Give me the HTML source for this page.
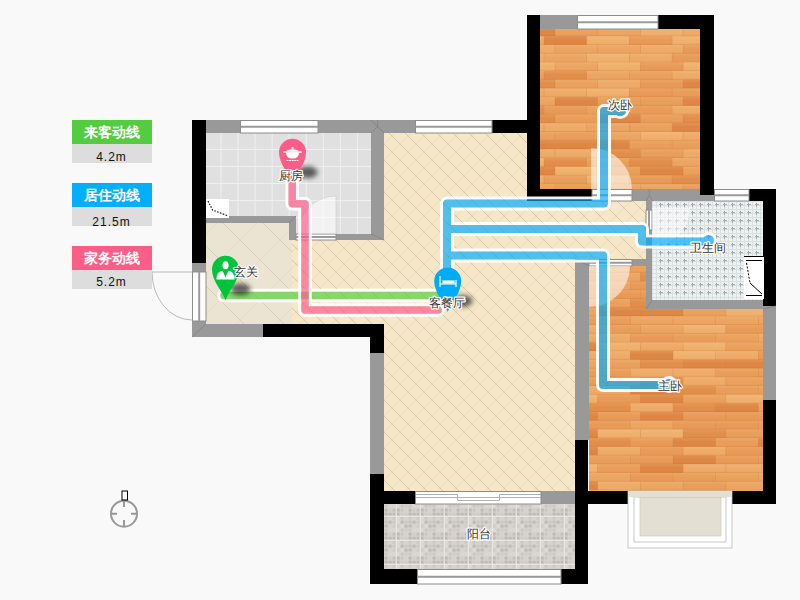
<!DOCTYPE html>
<html><head><meta charset="utf-8"><style>
html,body{margin:0;padding:0;width:800px;height:600px;overflow:hidden;background:#f9f9f9;font-family:"Liberation Sans",sans-serif;}
svg{position:absolute;left:0;top:0}
.lg{position:absolute;left:72px;width:80px;height:24px;line-height:24px;color:#fff;font-weight:bold;font-size:14px;text-align:center}
.lv{position:absolute;left:72px;width:80px;height:19px;line-height:26px;background:#dddddd;color:#111;font-size:12px;text-align:center;letter-spacing:1px;text-indent:-1px;overflow:hidden}
</style></head><body>
<svg width="800" height="600" viewBox="0 0 800 600" font-family="Liberation Sans, sans-serif">
<defs><pattern id="ktile" patternUnits="userSpaceOnUse" x="203.45" y="132" width="17.05" height="17">
<rect width="17.05" height="17" fill="#f0f0f0"/><rect x="1" y="1" width="16.05" height="16" fill="#e0e0e0"/></pattern><pattern id="hatch" patternUnits="userSpaceOnUse" x="0" y="0" width="16" height="16">
<rect width="16" height="16" fill="#f5e7c8"/>
<path d="M0 0L16 16M-8 8L8 24M8 -8L24 8" stroke="#a89a7a" stroke-width="0.7" opacity="0.62"/>
<path d="M0 16L16 0M-8 8L8 -8M8 24L24 8" stroke="#e6d8b8" stroke-width="0.7"/>
</pattern><pattern id="marble" patternUnits="userSpaceOnUse" x="0" y="0" width="40" height="40">
<rect width="40" height="40" fill="#ece4d3"/>
<path d="M0 0L40 40M-20 20L20 60M20 -20L60 20" stroke="#cfc2a8" stroke-width="0.6"/>
<path d="M0 40L40 0M-20 20L20 -20M20 60L60 20" stroke="#ddd2bc" stroke-width="0.5"/>
</pattern><pattern id="bath" patternUnits="userSpaceOnUse" x="648.5" y="200.5" width="8" height="8">
<rect width="8" height="8" fill="#edf1f1"/>
<path d="M0 0.5H8M0.5 0V8" stroke="#d6dddd" stroke-width="1"/>
<path d="M0 4.5H8M4.5 0V8" stroke="#e2e7e7" stroke-width="1"/>
<path d="M4 2V6M2 4H6" stroke="#a3abab" stroke-width="1" shape-rendering="crispEdges"/>
</pattern><pattern id="balc" patternUnits="userSpaceOnUse" x="384" y="504" width="24" height="24"><rect width="24" height="24" fill="#d9d5d0"/><rect x="0.6" y="0.6" width="3" height="3" fill="#cbc6c1"/><rect x="0.6" y="4.6" width="3" height="3" fill="#bdb8b3"/><rect x="0.6" y="8.6" width="3" height="3" fill="#bdb8b3"/><rect x="0.6" y="12.6" width="3" height="3" fill="#cbc6c1"/><rect x="0.6" y="16.6" width="3" height="3" fill="#c3beb9"/><rect x="0.6" y="20.6" width="3" height="3" fill="#bdb8b3"/><rect x="4.6" y="0.6" width="3" height="3" fill="#dcd8d3"/><rect x="4.6" y="4.6" width="3" height="3" fill="#d0cbc6"/><rect x="4.6" y="8.6" width="3" height="3" fill="#bdb8b3"/><rect x="4.6" y="12.6" width="3" height="3" fill="#d6d2cd"/><rect x="4.6" y="16.6" width="3" height="3" fill="#bdb8b3"/><rect x="4.6" y="20.6" width="3" height="3" fill="#d6d2cd"/><rect x="8.6" y="0.6" width="3" height="3" fill="#dcd8d3"/><rect x="8.6" y="4.6" width="3" height="3" fill="#c3beb9"/><rect x="8.6" y="8.6" width="3" height="3" fill="#bdb8b3"/><rect x="8.6" y="12.6" width="3" height="3" fill="#cbc6c1"/><rect x="8.6" y="16.6" width="3" height="3" fill="#cbc6c1"/><rect x="8.6" y="20.6" width="3" height="3" fill="#d0cbc6"/><rect x="12.6" y="0.6" width="3" height="3" fill="#dcd8d3"/><rect x="12.6" y="4.6" width="3" height="3" fill="#bdb8b3"/><rect x="12.6" y="8.6" width="3" height="3" fill="#bdb8b3"/><rect x="12.6" y="12.6" width="3" height="3" fill="#dcd8d3"/><rect x="12.6" y="16.6" width="3" height="3" fill="#dcd8d3"/><rect x="12.6" y="20.6" width="3" height="3" fill="#d0cbc6"/><rect x="16.6" y="0.6" width="3" height="3" fill="#cbc6c1"/><rect x="16.6" y="4.6" width="3" height="3" fill="#cbc6c1"/><rect x="16.6" y="8.6" width="3" height="3" fill="#d0cbc6"/><rect x="16.6" y="12.6" width="3" height="3" fill="#cbc6c1"/><rect x="16.6" y="16.6" width="3" height="3" fill="#bdb8b3"/><rect x="16.6" y="20.6" width="3" height="3" fill="#dcd8d3"/><rect x="20.6" y="0.6" width="3" height="3" fill="#d0cbc6"/><rect x="20.6" y="4.6" width="3" height="3" fill="#d6d2cd"/><rect x="20.6" y="8.6" width="3" height="3" fill="#d0cbc6"/><rect x="20.6" y="12.6" width="3" height="3" fill="#d6d2cd"/><rect x="20.6" y="16.6" width="3" height="3" fill="#cbc6c1"/><rect x="20.6" y="20.6" width="3" height="3" fill="#bdb8b3"/><path d="M0 12.3H24M12.3 0V24" stroke="#f0ede9" stroke-width="0.8"/></pattern><clipPath id="c540_29"><rect x="540" y="29" width="160" height="160"/></clipPath><clipPath id="c589_266"><rect x="589" y="266" width="174" height="225"/></clipPath><mask id="mg" maskUnits="userSpaceOnUse" x="0" y="0" width="800" height="600"><rect width="800" height="600" fill="#fff"/><path d="M224 295.5H447" fill="none" stroke="#000" stroke-width="7.5" stroke-linejoin="round" stroke-linecap="round"/></mask><mask id="mp" maskUnits="userSpaceOnUse" x="0" y="0" width="800" height="600"><rect width="800" height="600" fill="#fff"/><path d="M292.2 160V203.7H305V310H438" fill="none" stroke="#000" stroke-width="7.5" stroke-linejoin="round" stroke-linecap="round"/></mask><mask id="mb" maskUnits="userSpaceOnUse" x="0" y="0" width="800" height="600"><rect width="800" height="600" fill="#fff"/><path d="M447 300V203.5H604V111H622" fill="none" stroke="#000" stroke-width="8" stroke-linejoin="round" stroke-linecap="round"/><path d="M447 229H642V241.5H708" fill="none" stroke="#000" stroke-width="8" stroke-linejoin="round" stroke-linecap="round"/><path d="M447 255.5H603V385H668" fill="none" stroke="#000" stroke-width="8" stroke-linejoin="round" stroke-linecap="round"/><circle cx="620" cy="110.5" r="5.5" fill="#000"/><circle cx="708.5" cy="240.5" r="5.5" fill="#000"/><circle cx="669" cy="384.5" r="5.5" fill="#000"/></mask><linearGradient id="plankg" x1="0" y1="0" x2="0" y2="1"><stop offset="0" stop-color="#fff" stop-opacity="0.10"/><stop offset="0.5" stop-color="#fff" stop-opacity="0"/><stop offset="1" stop-color="#a04000" stop-opacity="0.10"/></linearGradient><filter id="blur" x="-50%" y="-50%" width="200%" height="200%"><feGaussianBlur stdDeviation="2.6"/></filter><filter id="tshadow" x="-30%" y="-30%" width="160%" height="160%"><feMorphology in="SourceAlpha" operator="dilate" radius="1.2" result="d"/><feFlood flood-color="#fff"/><feComposite in2="d" operator="in" result="w"/><feMerge><feMergeNode in="w"/><feMergeNode in="SourceGraphic"/></feMerge></filter></defs>
<rect x="384" y="133" width="143" height="67" fill="url(#hatch)" /><rect x="292" y="222" width="92" height="102" fill="url(#hatch)" /><rect x="384" y="133" width="191" height="358" fill="url(#hatch)" /><rect x="527" y="196" width="119" height="63.5" fill="url(#hatch)" /><rect x="206" y="222" width="86" height="102" fill="url(#marble)" /><rect x="206" y="133" width="165" height="83" fill="url(#ktile)" /><rect x="289" y="216" width="82" height="18" fill="url(#ktile)" /><rect x="652" y="201" width="111" height="99" fill="#edf1f1" /><path d="M652.5 201V300M656.5 201V300M660.5 201V300M664.5 201V300M668.5 201V300M672.5 201V300M676.5 201V300M680.5 201V300M684.5 201V300M688.5 201V300M692.5 201V300M696.5 201V300M700.5 201V300M704.5 201V300M708.5 201V300M712.5 201V300M716.5 201V300M720.5 201V300M724.5 201V300M728.5 201V300M732.5 201V300M736.5 201V300M740.5 201V300M744.5 201V300M748.5 201V300M752.5 201V300M756.5 201V300M760.5 201V300M652 201.5H763M652 205.5H763M652 209.5H763M652 213.5H763M652 217.5H763M652 221.5H763M652 225.5H763M652 229.5H763M652 233.5H763M652 237.5H763M652 241.5H763M652 245.5H763M652 249.5H763M652 253.5H763M652 257.5H763M652 261.5H763M652 265.5H763M652 269.5H763M652 273.5H763M652 277.5H763M652 281.5H763M652 285.5H763M652 289.5H763M652 293.5H763M652 297.5H763" stroke="#d9dfdf" stroke-width="1" shape-rendering="crispEdges"/><path d="M658.5 204.5H662.5M660.5 202.5V206.5M658.5 212.5H662.5M660.5 210.5V214.5M658.5 220.5H662.5M660.5 218.5V222.5M658.5 228.5H662.5M660.5 226.5V230.5M658.5 236.5H662.5M660.5 234.5V238.5M658.5 244.5H662.5M660.5 242.5V246.5M658.5 252.5H662.5M660.5 250.5V254.5M658.5 260.5H662.5M660.5 258.5V262.5M658.5 268.5H662.5M660.5 266.5V270.5M658.5 276.5H662.5M660.5 274.5V278.5M658.5 284.5H662.5M660.5 282.5V286.5M658.5 292.5H662.5M660.5 290.5V294.5M666.5 204.5H670.5M668.5 202.5V206.5M666.5 212.5H670.5M668.5 210.5V214.5M666.5 220.5H670.5M668.5 218.5V222.5M666.5 228.5H670.5M668.5 226.5V230.5M666.5 236.5H670.5M668.5 234.5V238.5M666.5 244.5H670.5M668.5 242.5V246.5M666.5 252.5H670.5M668.5 250.5V254.5M666.5 260.5H670.5M668.5 258.5V262.5M666.5 268.5H670.5M668.5 266.5V270.5M666.5 276.5H670.5M668.5 274.5V278.5M666.5 284.5H670.5M668.5 282.5V286.5M666.5 292.5H670.5M668.5 290.5V294.5M674.5 204.5H678.5M676.5 202.5V206.5M674.5 212.5H678.5M676.5 210.5V214.5M674.5 220.5H678.5M676.5 218.5V222.5M674.5 228.5H678.5M676.5 226.5V230.5M674.5 236.5H678.5M676.5 234.5V238.5M674.5 244.5H678.5M676.5 242.5V246.5M674.5 252.5H678.5M676.5 250.5V254.5M674.5 260.5H678.5M676.5 258.5V262.5M674.5 268.5H678.5M676.5 266.5V270.5M674.5 276.5H678.5M676.5 274.5V278.5M674.5 284.5H678.5M676.5 282.5V286.5M674.5 292.5H678.5M676.5 290.5V294.5M682.5 204.5H686.5M684.5 202.5V206.5M682.5 212.5H686.5M684.5 210.5V214.5M682.5 220.5H686.5M684.5 218.5V222.5M682.5 228.5H686.5M684.5 226.5V230.5M682.5 236.5H686.5M684.5 234.5V238.5M682.5 244.5H686.5M684.5 242.5V246.5M682.5 252.5H686.5M684.5 250.5V254.5M682.5 260.5H686.5M684.5 258.5V262.5M682.5 268.5H686.5M684.5 266.5V270.5M682.5 276.5H686.5M684.5 274.5V278.5M682.5 284.5H686.5M684.5 282.5V286.5M682.5 292.5H686.5M684.5 290.5V294.5M690.5 204.5H694.5M692.5 202.5V206.5M690.5 212.5H694.5M692.5 210.5V214.5M690.5 220.5H694.5M692.5 218.5V222.5M690.5 228.5H694.5M692.5 226.5V230.5M690.5 236.5H694.5M692.5 234.5V238.5M690.5 244.5H694.5M692.5 242.5V246.5M690.5 252.5H694.5M692.5 250.5V254.5M690.5 260.5H694.5M692.5 258.5V262.5M690.5 268.5H694.5M692.5 266.5V270.5M690.5 276.5H694.5M692.5 274.5V278.5M690.5 284.5H694.5M692.5 282.5V286.5M690.5 292.5H694.5M692.5 290.5V294.5M698.5 204.5H702.5M700.5 202.5V206.5M698.5 212.5H702.5M700.5 210.5V214.5M698.5 220.5H702.5M700.5 218.5V222.5M698.5 228.5H702.5M700.5 226.5V230.5M698.5 236.5H702.5M700.5 234.5V238.5M698.5 244.5H702.5M700.5 242.5V246.5M698.5 252.5H702.5M700.5 250.5V254.5M698.5 260.5H702.5M700.5 258.5V262.5M698.5 268.5H702.5M700.5 266.5V270.5M698.5 276.5H702.5M700.5 274.5V278.5M698.5 284.5H702.5M700.5 282.5V286.5M698.5 292.5H702.5M700.5 290.5V294.5M706.5 204.5H710.5M708.5 202.5V206.5M706.5 212.5H710.5M708.5 210.5V214.5M706.5 220.5H710.5M708.5 218.5V222.5M706.5 228.5H710.5M708.5 226.5V230.5M706.5 236.5H710.5M708.5 234.5V238.5M706.5 244.5H710.5M708.5 242.5V246.5M706.5 252.5H710.5M708.5 250.5V254.5M706.5 260.5H710.5M708.5 258.5V262.5M706.5 268.5H710.5M708.5 266.5V270.5M706.5 276.5H710.5M708.5 274.5V278.5M706.5 284.5H710.5M708.5 282.5V286.5M706.5 292.5H710.5M708.5 290.5V294.5M714.5 204.5H718.5M716.5 202.5V206.5M714.5 212.5H718.5M716.5 210.5V214.5M714.5 220.5H718.5M716.5 218.5V222.5M714.5 228.5H718.5M716.5 226.5V230.5M714.5 236.5H718.5M716.5 234.5V238.5M714.5 244.5H718.5M716.5 242.5V246.5M714.5 252.5H718.5M716.5 250.5V254.5M714.5 260.5H718.5M716.5 258.5V262.5M714.5 268.5H718.5M716.5 266.5V270.5M714.5 276.5H718.5M716.5 274.5V278.5M714.5 284.5H718.5M716.5 282.5V286.5M714.5 292.5H718.5M716.5 290.5V294.5M722.5 204.5H726.5M724.5 202.5V206.5M722.5 212.5H726.5M724.5 210.5V214.5M722.5 220.5H726.5M724.5 218.5V222.5M722.5 228.5H726.5M724.5 226.5V230.5M722.5 236.5H726.5M724.5 234.5V238.5M722.5 244.5H726.5M724.5 242.5V246.5M722.5 252.5H726.5M724.5 250.5V254.5M722.5 260.5H726.5M724.5 258.5V262.5M722.5 268.5H726.5M724.5 266.5V270.5M722.5 276.5H726.5M724.5 274.5V278.5M722.5 284.5H726.5M724.5 282.5V286.5M722.5 292.5H726.5M724.5 290.5V294.5M730.5 204.5H734.5M732.5 202.5V206.5M730.5 212.5H734.5M732.5 210.5V214.5M730.5 220.5H734.5M732.5 218.5V222.5M730.5 228.5H734.5M732.5 226.5V230.5M730.5 236.5H734.5M732.5 234.5V238.5M730.5 244.5H734.5M732.5 242.5V246.5M730.5 252.5H734.5M732.5 250.5V254.5M730.5 260.5H734.5M732.5 258.5V262.5M730.5 268.5H734.5M732.5 266.5V270.5M730.5 276.5H734.5M732.5 274.5V278.5M730.5 284.5H734.5M732.5 282.5V286.5M730.5 292.5H734.5M732.5 290.5V294.5M738.5 204.5H742.5M740.5 202.5V206.5M738.5 212.5H742.5M740.5 210.5V214.5M738.5 220.5H742.5M740.5 218.5V222.5M738.5 228.5H742.5M740.5 226.5V230.5M738.5 236.5H742.5M740.5 234.5V238.5M738.5 244.5H742.5M740.5 242.5V246.5M738.5 252.5H742.5M740.5 250.5V254.5M738.5 260.5H742.5M740.5 258.5V262.5M738.5 268.5H742.5M740.5 266.5V270.5M738.5 276.5H742.5M740.5 274.5V278.5M738.5 284.5H742.5M740.5 282.5V286.5M738.5 292.5H742.5M740.5 290.5V294.5M746.5 204.5H750.5M748.5 202.5V206.5M746.5 212.5H750.5M748.5 210.5V214.5M746.5 220.5H750.5M748.5 218.5V222.5M746.5 228.5H750.5M748.5 226.5V230.5M746.5 236.5H750.5M748.5 234.5V238.5M746.5 244.5H750.5M748.5 242.5V246.5M746.5 252.5H750.5M748.5 250.5V254.5M746.5 260.5H750.5M748.5 258.5V262.5M746.5 268.5H750.5M748.5 266.5V270.5M746.5 276.5H750.5M748.5 274.5V278.5M746.5 284.5H750.5M748.5 282.5V286.5M746.5 292.5H750.5M748.5 290.5V294.5M754.5 204.5H758.5M756.5 202.5V206.5M754.5 212.5H758.5M756.5 210.5V214.5M754.5 220.5H758.5M756.5 218.5V222.5M754.5 228.5H758.5M756.5 226.5V230.5M754.5 236.5H758.5M756.5 234.5V238.5M754.5 244.5H758.5M756.5 242.5V246.5M754.5 252.5H758.5M756.5 250.5V254.5M754.5 260.5H758.5M756.5 258.5V262.5M754.5 268.5H758.5M756.5 266.5V270.5M754.5 276.5H758.5M756.5 274.5V278.5M754.5 284.5H758.5M756.5 282.5V286.5M754.5 292.5H758.5M756.5 290.5V294.5" stroke="#a2aaaa" stroke-width="1" shape-rendering="crispEdges"/><rect x="384" y="504" width="191" height="65" fill="url(#balc)" /><g clip-path="url(#c540_29)"><rect x="540" y="29" width="160" height="160" fill="#e89a55" /><rect x="512.3" y="27.5" width="42.7" height="8.7" fill="#de8542"/><path d="M512.3 27.5V36.2" stroke="#c0652a" stroke-width="0.6" opacity="0.3"/><rect x="555.0" y="27.5" width="42.7" height="8.7" fill="#eba05a"/><path d="M555.0 27.5V36.2" stroke="#c0652a" stroke-width="0.6" opacity="0.3"/><rect x="597.7" y="27.5" width="42.7" height="8.7" fill="#eca460"/><path d="M597.7 27.5V36.2" stroke="#c0652a" stroke-width="0.6" opacity="0.3"/><rect x="640.4" y="27.5" width="42.7" height="8.7" fill="#f0b06c"/><path d="M640.4 27.5V36.2" stroke="#c0652a" stroke-width="0.6" opacity="0.3"/><rect x="683.1" y="27.5" width="42.7" height="8.7" fill="#eeaa66"/><path d="M683.1 27.5V36.2" stroke="#c0652a" stroke-width="0.6" opacity="0.3"/><rect x="540" y="27.5" width="160" height="8.7" fill="url(#plankg)"/><path d="M540 36.2H700" stroke="#c46a2c" stroke-width="0.6" opacity="0.35"/><rect x="501.3" y="36.2" width="42.7" height="8.7" fill="#eeaa66"/><path d="M501.3 36.2V44.9" stroke="#c0652a" stroke-width="0.6" opacity="0.3"/><rect x="544.0" y="36.2" width="42.7" height="8.7" fill="#de8542"/><path d="M544.0 36.2V44.9" stroke="#c0652a" stroke-width="0.6" opacity="0.3"/><rect x="586.7" y="36.2" width="42.7" height="8.7" fill="#f0b06c"/><path d="M586.7 36.2V44.9" stroke="#c0652a" stroke-width="0.6" opacity="0.3"/><rect x="629.4" y="36.2" width="42.7" height="8.7" fill="#e89a55"/><path d="M629.4 36.2V44.9" stroke="#c0652a" stroke-width="0.6" opacity="0.3"/><rect x="672.1" y="36.2" width="42.7" height="8.7" fill="#f0b06c"/><path d="M672.1 36.2V44.9" stroke="#c0652a" stroke-width="0.6" opacity="0.3"/><rect x="540" y="36.2" width="160" height="8.7" fill="url(#plankg)"/><path d="M540 44.9H700" stroke="#c46a2c" stroke-width="0.6" opacity="0.35"/><rect x="512.3" y="44.9" width="42.7" height="8.7" fill="#eeaa66"/><path d="M512.3 44.9V53.6" stroke="#c0652a" stroke-width="0.6" opacity="0.3"/><rect x="555.0" y="44.9" width="42.7" height="8.7" fill="#eca460"/><path d="M555.0 44.9V53.6" stroke="#c0652a" stroke-width="0.6" opacity="0.3"/><rect x="597.7" y="44.9" width="42.7" height="8.7" fill="#eca460"/><path d="M597.7 44.9V53.6" stroke="#c0652a" stroke-width="0.6" opacity="0.3"/><rect x="640.4" y="44.9" width="42.7" height="8.7" fill="#eeaa66"/><path d="M640.4 44.9V53.6" stroke="#c0652a" stroke-width="0.6" opacity="0.3"/><rect x="683.1" y="44.9" width="42.7" height="8.7" fill="#e89a55"/><path d="M683.1 44.9V53.6" stroke="#c0652a" stroke-width="0.6" opacity="0.3"/><rect x="540" y="44.9" width="160" height="8.7" fill="url(#plankg)"/><path d="M540 53.6H700" stroke="#c46a2c" stroke-width="0.6" opacity="0.35"/><rect x="501.3" y="53.6" width="42.7" height="8.7" fill="#eeaa66"/><path d="M501.3 53.6V62.3" stroke="#c0652a" stroke-width="0.6" opacity="0.3"/><rect x="544.0" y="53.6" width="42.7" height="8.7" fill="#eca460"/><path d="M544.0 53.6V62.3" stroke="#c0652a" stroke-width="0.6" opacity="0.3"/><rect x="586.7" y="53.6" width="42.7" height="8.7" fill="#f0b06c"/><path d="M586.7 53.6V62.3" stroke="#c0652a" stroke-width="0.6" opacity="0.3"/><rect x="629.4" y="53.6" width="42.7" height="8.7" fill="#eeaa66"/><path d="M629.4 53.6V62.3" stroke="#c0652a" stroke-width="0.6" opacity="0.3"/><rect x="672.1" y="53.6" width="42.7" height="8.7" fill="#e89a55"/><path d="M672.1 53.6V62.3" stroke="#c0652a" stroke-width="0.6" opacity="0.3"/><rect x="540" y="53.6" width="160" height="8.7" fill="url(#plankg)"/><path d="M540 62.3H700" stroke="#c46a2c" stroke-width="0.6" opacity="0.35"/><rect x="512.3" y="62.3" width="42.7" height="8.7" fill="#f0b06c"/><path d="M512.3 62.3V71.0" stroke="#c0652a" stroke-width="0.6" opacity="0.3"/><rect x="555.0" y="62.3" width="42.7" height="8.7" fill="#eca460"/><path d="M555.0 62.3V71.0" stroke="#c0652a" stroke-width="0.6" opacity="0.3"/><rect x="597.7" y="62.3" width="42.7" height="8.7" fill="#f0b06c"/><path d="M597.7 62.3V71.0" stroke="#c0652a" stroke-width="0.6" opacity="0.3"/><rect x="640.4" y="62.3" width="42.7" height="8.7" fill="#e89a55"/><path d="M640.4 62.3V71.0" stroke="#c0652a" stroke-width="0.6" opacity="0.3"/><rect x="683.1" y="62.3" width="42.7" height="8.7" fill="#f0b06c"/><path d="M683.1 62.3V71.0" stroke="#c0652a" stroke-width="0.6" opacity="0.3"/><rect x="540" y="62.3" width="160" height="8.7" fill="url(#plankg)"/><path d="M540 71.0H700" stroke="#c46a2c" stroke-width="0.6" opacity="0.35"/><rect x="501.3" y="71.0" width="42.7" height="8.7" fill="#eba05a"/><path d="M501.3 71.0V79.7" stroke="#c0652a" stroke-width="0.6" opacity="0.3"/><rect x="544.0" y="71.0" width="42.7" height="8.7" fill="#e28d48"/><path d="M544.0 71.0V79.7" stroke="#c0652a" stroke-width="0.6" opacity="0.3"/><rect x="586.7" y="71.0" width="42.7" height="8.7" fill="#eca460"/><path d="M586.7 71.0V79.7" stroke="#c0652a" stroke-width="0.6" opacity="0.3"/><rect x="629.4" y="71.0" width="42.7" height="8.7" fill="#eba05a"/><path d="M629.4 71.0V79.7" stroke="#c0652a" stroke-width="0.6" opacity="0.3"/><rect x="672.1" y="71.0" width="42.7" height="8.7" fill="#eeaa66"/><path d="M672.1 71.0V79.7" stroke="#c0652a" stroke-width="0.6" opacity="0.3"/><rect x="540" y="71.0" width="160" height="8.7" fill="url(#plankg)"/><path d="M540 79.7H700" stroke="#c46a2c" stroke-width="0.6" opacity="0.35"/><rect x="512.3" y="79.7" width="42.7" height="8.7" fill="#e28d48"/><path d="M512.3 79.7V88.4" stroke="#c0652a" stroke-width="0.6" opacity="0.3"/><rect x="555.0" y="79.7" width="42.7" height="8.7" fill="#eba05a"/><path d="M555.0 79.7V88.4" stroke="#c0652a" stroke-width="0.6" opacity="0.3"/><rect x="597.7" y="79.7" width="42.7" height="8.7" fill="#eeaa66"/><path d="M597.7 79.7V88.4" stroke="#c0652a" stroke-width="0.6" opacity="0.3"/><rect x="640.4" y="79.7" width="42.7" height="8.7" fill="#e89a55"/><path d="M640.4 79.7V88.4" stroke="#c0652a" stroke-width="0.6" opacity="0.3"/><rect x="683.1" y="79.7" width="42.7" height="8.7" fill="#de8542"/><path d="M683.1 79.7V88.4" stroke="#c0652a" stroke-width="0.6" opacity="0.3"/><rect x="540" y="79.7" width="160" height="8.7" fill="url(#plankg)"/><path d="M540 88.4H700" stroke="#c46a2c" stroke-width="0.6" opacity="0.35"/><rect x="501.3" y="88.4" width="42.7" height="8.7" fill="#eeaa66"/><path d="M501.3 88.4V97.1" stroke="#c0652a" stroke-width="0.6" opacity="0.3"/><rect x="544.0" y="88.4" width="42.7" height="8.7" fill="#eeaa66"/><path d="M544.0 88.4V97.1" stroke="#c0652a" stroke-width="0.6" opacity="0.3"/><rect x="586.7" y="88.4" width="42.7" height="8.7" fill="#f0b06c"/><path d="M586.7 88.4V97.1" stroke="#c0652a" stroke-width="0.6" opacity="0.3"/><rect x="629.4" y="88.4" width="42.7" height="8.7" fill="#e89a55"/><path d="M629.4 88.4V97.1" stroke="#c0652a" stroke-width="0.6" opacity="0.3"/><rect x="672.1" y="88.4" width="42.7" height="8.7" fill="#e99d58"/><path d="M672.1 88.4V97.1" stroke="#c0652a" stroke-width="0.6" opacity="0.3"/><rect x="540" y="88.4" width="160" height="8.7" fill="url(#plankg)"/><path d="M540 97.1H700" stroke="#c46a2c" stroke-width="0.6" opacity="0.35"/><rect x="512.3" y="97.1" width="42.7" height="8.7" fill="#eca460"/><path d="M512.3 97.1V105.8" stroke="#c0652a" stroke-width="0.6" opacity="0.3"/><rect x="555.0" y="97.1" width="42.7" height="8.7" fill="#de8542"/><path d="M555.0 97.1V105.8" stroke="#c0652a" stroke-width="0.6" opacity="0.3"/><rect x="597.7" y="97.1" width="42.7" height="8.7" fill="#e99d58"/><path d="M597.7 97.1V105.8" stroke="#c0652a" stroke-width="0.6" opacity="0.3"/><rect x="640.4" y="97.1" width="42.7" height="8.7" fill="#e99d58"/><path d="M640.4 97.1V105.8" stroke="#c0652a" stroke-width="0.6" opacity="0.3"/><rect x="683.1" y="97.1" width="42.7" height="8.7" fill="#de8542"/><path d="M683.1 97.1V105.8" stroke="#c0652a" stroke-width="0.6" opacity="0.3"/><rect x="540" y="97.1" width="160" height="8.7" fill="url(#plankg)"/><path d="M540 105.8H700" stroke="#c46a2c" stroke-width="0.6" opacity="0.35"/><rect x="501.3" y="105.8" width="42.7" height="8.7" fill="#e28d48"/><path d="M501.3 105.8V114.5" stroke="#c0652a" stroke-width="0.6" opacity="0.3"/><rect x="544.0" y="105.8" width="42.7" height="8.7" fill="#e89a55"/><path d="M544.0 105.8V114.5" stroke="#c0652a" stroke-width="0.6" opacity="0.3"/><rect x="586.7" y="105.8" width="42.7" height="8.7" fill="#eba05a"/><path d="M586.7 105.8V114.5" stroke="#c0652a" stroke-width="0.6" opacity="0.3"/><rect x="629.4" y="105.8" width="42.7" height="8.7" fill="#e89a55"/><path d="M629.4 105.8V114.5" stroke="#c0652a" stroke-width="0.6" opacity="0.3"/><rect x="672.1" y="105.8" width="42.7" height="8.7" fill="#eeaa66"/><path d="M672.1 105.8V114.5" stroke="#c0652a" stroke-width="0.6" opacity="0.3"/><rect x="540" y="105.8" width="160" height="8.7" fill="url(#plankg)"/><path d="M540 114.5H700" stroke="#c46a2c" stroke-width="0.6" opacity="0.35"/><rect x="512.3" y="114.5" width="42.7" height="8.7" fill="#e28d48"/><path d="M512.3 114.5V123.2" stroke="#c0652a" stroke-width="0.6" opacity="0.3"/><rect x="555.0" y="114.5" width="42.7" height="8.7" fill="#e99d58"/><path d="M555.0 114.5V123.2" stroke="#c0652a" stroke-width="0.6" opacity="0.3"/><rect x="597.7" y="114.5" width="42.7" height="8.7" fill="#de8542"/><path d="M597.7 114.5V123.2" stroke="#c0652a" stroke-width="0.6" opacity="0.3"/><rect x="640.4" y="114.5" width="42.7" height="8.7" fill="#e99d58"/><path d="M640.4 114.5V123.2" stroke="#c0652a" stroke-width="0.6" opacity="0.3"/><rect x="683.1" y="114.5" width="42.7" height="8.7" fill="#e28d48"/><path d="M683.1 114.5V123.2" stroke="#c0652a" stroke-width="0.6" opacity="0.3"/><rect x="540" y="114.5" width="160" height="8.7" fill="url(#plankg)"/><path d="M540 123.2H700" stroke="#c46a2c" stroke-width="0.6" opacity="0.35"/><rect x="501.3" y="123.2" width="42.7" height="8.7" fill="#eeaa66"/><path d="M501.3 123.2V131.9" stroke="#c0652a" stroke-width="0.6" opacity="0.3"/><rect x="544.0" y="123.2" width="42.7" height="8.7" fill="#eeaa66"/><path d="M544.0 123.2V131.9" stroke="#c0652a" stroke-width="0.6" opacity="0.3"/><rect x="586.7" y="123.2" width="42.7" height="8.7" fill="#eca460"/><path d="M586.7 123.2V131.9" stroke="#c0652a" stroke-width="0.6" opacity="0.3"/><rect x="629.4" y="123.2" width="42.7" height="8.7" fill="#eba05a"/><path d="M629.4 123.2V131.9" stroke="#c0652a" stroke-width="0.6" opacity="0.3"/><rect x="672.1" y="123.2" width="42.7" height="8.7" fill="#de8542"/><path d="M672.1 123.2V131.9" stroke="#c0652a" stroke-width="0.6" opacity="0.3"/><rect x="540" y="123.2" width="160" height="8.7" fill="url(#plankg)"/><path d="M540 131.9H700" stroke="#c46a2c" stroke-width="0.6" opacity="0.35"/><rect x="512.3" y="131.9" width="42.7" height="8.7" fill="#eba05a"/><path d="M512.3 131.9V140.6" stroke="#c0652a" stroke-width="0.6" opacity="0.3"/><rect x="555.0" y="131.9" width="42.7" height="8.7" fill="#e99d58"/><path d="M555.0 131.9V140.6" stroke="#c0652a" stroke-width="0.6" opacity="0.3"/><rect x="597.7" y="131.9" width="42.7" height="8.7" fill="#eca460"/><path d="M597.7 131.9V140.6" stroke="#c0652a" stroke-width="0.6" opacity="0.3"/><rect x="640.4" y="131.9" width="42.7" height="8.7" fill="#f0b06c"/><path d="M640.4 131.9V140.6" stroke="#c0652a" stroke-width="0.6" opacity="0.3"/><rect x="683.1" y="131.9" width="42.7" height="8.7" fill="#eeaa66"/><path d="M683.1 131.9V140.6" stroke="#c0652a" stroke-width="0.6" opacity="0.3"/><rect x="540" y="131.9" width="160" height="8.7" fill="url(#plankg)"/><path d="M540 140.6H700" stroke="#c46a2c" stroke-width="0.6" opacity="0.35"/><rect x="501.3" y="140.6" width="42.7" height="8.7" fill="#de8542"/><path d="M501.3 140.6V149.3" stroke="#c0652a" stroke-width="0.6" opacity="0.3"/><rect x="544.0" y="140.6" width="42.7" height="8.7" fill="#de8542"/><path d="M544.0 140.6V149.3" stroke="#c0652a" stroke-width="0.6" opacity="0.3"/><rect x="586.7" y="140.6" width="42.7" height="8.7" fill="#de8542"/><path d="M586.7 140.6V149.3" stroke="#c0652a" stroke-width="0.6" opacity="0.3"/><rect x="629.4" y="140.6" width="42.7" height="8.7" fill="#e99d58"/><path d="M629.4 140.6V149.3" stroke="#c0652a" stroke-width="0.6" opacity="0.3"/><rect x="672.1" y="140.6" width="42.7" height="8.7" fill="#e99d58"/><path d="M672.1 140.6V149.3" stroke="#c0652a" stroke-width="0.6" opacity="0.3"/><rect x="540" y="140.6" width="160" height="8.7" fill="url(#plankg)"/><path d="M540 149.3H700" stroke="#c46a2c" stroke-width="0.6" opacity="0.35"/><rect x="512.3" y="149.3" width="42.7" height="8.7" fill="#eeaa66"/><path d="M512.3 149.3V158.0" stroke="#c0652a" stroke-width="0.6" opacity="0.3"/><rect x="555.0" y="149.3" width="42.7" height="8.7" fill="#eeaa66"/><path d="M555.0 149.3V158.0" stroke="#c0652a" stroke-width="0.6" opacity="0.3"/><rect x="597.7" y="149.3" width="42.7" height="8.7" fill="#e28d48"/><path d="M597.7 149.3V158.0" stroke="#c0652a" stroke-width="0.6" opacity="0.3"/><rect x="640.4" y="149.3" width="42.7" height="8.7" fill="#e99d58"/><path d="M640.4 149.3V158.0" stroke="#c0652a" stroke-width="0.6" opacity="0.3"/><rect x="683.1" y="149.3" width="42.7" height="8.7" fill="#eeaa66"/><path d="M683.1 149.3V158.0" stroke="#c0652a" stroke-width="0.6" opacity="0.3"/><rect x="540" y="149.3" width="160" height="8.7" fill="url(#plankg)"/><path d="M540 158.0H700" stroke="#c46a2c" stroke-width="0.6" opacity="0.35"/><rect x="501.3" y="158.0" width="42.7" height="8.7" fill="#f0b06c"/><path d="M501.3 158.0V166.7" stroke="#c0652a" stroke-width="0.6" opacity="0.3"/><rect x="544.0" y="158.0" width="42.7" height="8.7" fill="#e28d48"/><path d="M544.0 158.0V166.7" stroke="#c0652a" stroke-width="0.6" opacity="0.3"/><rect x="586.7" y="158.0" width="42.7" height="8.7" fill="#e99d58"/><path d="M586.7 158.0V166.7" stroke="#c0652a" stroke-width="0.6" opacity="0.3"/><rect x="629.4" y="158.0" width="42.7" height="8.7" fill="#e28d48"/><path d="M629.4 158.0V166.7" stroke="#c0652a" stroke-width="0.6" opacity="0.3"/><rect x="672.1" y="158.0" width="42.7" height="8.7" fill="#eca460"/><path d="M672.1 158.0V166.7" stroke="#c0652a" stroke-width="0.6" opacity="0.3"/><rect x="540" y="158.0" width="160" height="8.7" fill="url(#plankg)"/><path d="M540 166.7H700" stroke="#c46a2c" stroke-width="0.6" opacity="0.35"/><rect x="512.3" y="166.7" width="42.7" height="8.7" fill="#de8542"/><path d="M512.3 166.7V175.4" stroke="#c0652a" stroke-width="0.6" opacity="0.3"/><rect x="555.0" y="166.7" width="42.7" height="8.7" fill="#f0b06c"/><path d="M555.0 166.7V175.4" stroke="#c0652a" stroke-width="0.6" opacity="0.3"/><rect x="597.7" y="166.7" width="42.7" height="8.7" fill="#e99d58"/><path d="M597.7 166.7V175.4" stroke="#c0652a" stroke-width="0.6" opacity="0.3"/><rect x="640.4" y="166.7" width="42.7" height="8.7" fill="#de8542"/><path d="M640.4 166.7V175.4" stroke="#c0652a" stroke-width="0.6" opacity="0.3"/><rect x="683.1" y="166.7" width="42.7" height="8.7" fill="#eba05a"/><path d="M683.1 166.7V175.4" stroke="#c0652a" stroke-width="0.6" opacity="0.3"/><rect x="540" y="166.7" width="160" height="8.7" fill="url(#plankg)"/><path d="M540 175.4H700" stroke="#c46a2c" stroke-width="0.6" opacity="0.35"/><rect x="501.3" y="175.4" width="42.7" height="8.7" fill="#eeaa66"/><path d="M501.3 175.4V184.1" stroke="#c0652a" stroke-width="0.6" opacity="0.3"/><rect x="544.0" y="175.4" width="42.7" height="8.7" fill="#e99d58"/><path d="M544.0 175.4V184.1" stroke="#c0652a" stroke-width="0.6" opacity="0.3"/><rect x="586.7" y="175.4" width="42.7" height="8.7" fill="#f0b06c"/><path d="M586.7 175.4V184.1" stroke="#c0652a" stroke-width="0.6" opacity="0.3"/><rect x="629.4" y="175.4" width="42.7" height="8.7" fill="#e89a55"/><path d="M629.4 175.4V184.1" stroke="#c0652a" stroke-width="0.6" opacity="0.3"/><rect x="672.1" y="175.4" width="42.7" height="8.7" fill="#e28d48"/><path d="M672.1 175.4V184.1" stroke="#c0652a" stroke-width="0.6" opacity="0.3"/><rect x="540" y="175.4" width="160" height="8.7" fill="url(#plankg)"/><path d="M540 184.1H700" stroke="#c46a2c" stroke-width="0.6" opacity="0.35"/><rect x="512.3" y="184.1" width="42.7" height="8.7" fill="#eba05a"/><path d="M512.3 184.1V192.8" stroke="#c0652a" stroke-width="0.6" opacity="0.3"/><rect x="555.0" y="184.1" width="42.7" height="8.7" fill="#e89a55"/><path d="M555.0 184.1V192.8" stroke="#c0652a" stroke-width="0.6" opacity="0.3"/><rect x="597.7" y="184.1" width="42.7" height="8.7" fill="#eca460"/><path d="M597.7 184.1V192.8" stroke="#c0652a" stroke-width="0.6" opacity="0.3"/><rect x="640.4" y="184.1" width="42.7" height="8.7" fill="#eca460"/><path d="M640.4 184.1V192.8" stroke="#c0652a" stroke-width="0.6" opacity="0.3"/><rect x="683.1" y="184.1" width="42.7" height="8.7" fill="#e99d58"/><path d="M683.1 184.1V192.8" stroke="#c0652a" stroke-width="0.6" opacity="0.3"/><rect x="540" y="184.1" width="160" height="8.7" fill="url(#plankg)"/><path d="M540 192.8H700" stroke="#c46a2c" stroke-width="0.6" opacity="0.35"/></g><g clip-path="url(#c589_266)"><rect x="589" y="266" width="174" height="225" fill="#e89a55" /><rect x="587.6" y="264.1" width="42.7" height="8.7" fill="#eeaa66"/><path d="M587.6 264.1V272.8" stroke="#c0652a" stroke-width="0.6" opacity="0.3"/><rect x="630.3" y="264.1" width="42.7" height="8.7" fill="#eba05a"/><path d="M630.3 264.1V272.8" stroke="#c0652a" stroke-width="0.6" opacity="0.3"/><rect x="673.0" y="264.1" width="42.7" height="8.7" fill="#e99d58"/><path d="M673.0 264.1V272.8" stroke="#c0652a" stroke-width="0.6" opacity="0.3"/><rect x="715.7" y="264.1" width="42.7" height="8.7" fill="#eca460"/><path d="M715.7 264.1V272.8" stroke="#c0652a" stroke-width="0.6" opacity="0.3"/><rect x="758.4" y="264.1" width="42.7" height="8.7" fill="#e28d48"/><path d="M758.4 264.1V272.8" stroke="#c0652a" stroke-width="0.6" opacity="0.3"/><rect x="589" y="264.1" width="174" height="8.7" fill="url(#plankg)"/><path d="M589 272.8H763" stroke="#c46a2c" stroke-width="0.6" opacity="0.35"/><rect x="555.0" y="272.8" width="42.7" height="8.7" fill="#eba05a"/><path d="M555.0 272.8V281.5" stroke="#c0652a" stroke-width="0.6" opacity="0.3"/><rect x="597.7" y="272.8" width="42.7" height="8.7" fill="#eca460"/><path d="M597.7 272.8V281.5" stroke="#c0652a" stroke-width="0.6" opacity="0.3"/><rect x="640.4" y="272.8" width="42.7" height="8.7" fill="#e28d48"/><path d="M640.4 272.8V281.5" stroke="#c0652a" stroke-width="0.6" opacity="0.3"/><rect x="683.1" y="272.8" width="42.7" height="8.7" fill="#eca460"/><path d="M683.1 272.8V281.5" stroke="#c0652a" stroke-width="0.6" opacity="0.3"/><rect x="725.8" y="272.8" width="42.7" height="8.7" fill="#de8542"/><path d="M725.8 272.8V281.5" stroke="#c0652a" stroke-width="0.6" opacity="0.3"/><rect x="589" y="272.8" width="174" height="8.7" fill="url(#plankg)"/><path d="M589 281.5H763" stroke="#c46a2c" stroke-width="0.6" opacity="0.35"/><rect x="587.6" y="281.5" width="42.7" height="8.7" fill="#eca460"/><path d="M587.6 281.5V290.2" stroke="#c0652a" stroke-width="0.6" opacity="0.3"/><rect x="630.3" y="281.5" width="42.7" height="8.7" fill="#e89a55"/><path d="M630.3 281.5V290.2" stroke="#c0652a" stroke-width="0.6" opacity="0.3"/><rect x="673.0" y="281.5" width="42.7" height="8.7" fill="#eba05a"/><path d="M673.0 281.5V290.2" stroke="#c0652a" stroke-width="0.6" opacity="0.3"/><rect x="715.7" y="281.5" width="42.7" height="8.7" fill="#eeaa66"/><path d="M715.7 281.5V290.2" stroke="#c0652a" stroke-width="0.6" opacity="0.3"/><rect x="758.4" y="281.5" width="42.7" height="8.7" fill="#eba05a"/><path d="M758.4 281.5V290.2" stroke="#c0652a" stroke-width="0.6" opacity="0.3"/><rect x="589" y="281.5" width="174" height="8.7" fill="url(#plankg)"/><path d="M589 290.2H763" stroke="#c46a2c" stroke-width="0.6" opacity="0.35"/><rect x="555.0" y="290.2" width="42.7" height="8.7" fill="#eba05a"/><path d="M555.0 290.2V298.9" stroke="#c0652a" stroke-width="0.6" opacity="0.3"/><rect x="597.7" y="290.2" width="42.7" height="8.7" fill="#e89a55"/><path d="M597.7 290.2V298.9" stroke="#c0652a" stroke-width="0.6" opacity="0.3"/><rect x="640.4" y="290.2" width="42.7" height="8.7" fill="#e89a55"/><path d="M640.4 290.2V298.9" stroke="#c0652a" stroke-width="0.6" opacity="0.3"/><rect x="683.1" y="290.2" width="42.7" height="8.7" fill="#f0b06c"/><path d="M683.1 290.2V298.9" stroke="#c0652a" stroke-width="0.6" opacity="0.3"/><rect x="725.8" y="290.2" width="42.7" height="8.7" fill="#e99d58"/><path d="M725.8 290.2V298.9" stroke="#c0652a" stroke-width="0.6" opacity="0.3"/><rect x="589" y="290.2" width="174" height="8.7" fill="url(#plankg)"/><path d="M589 298.9H763" stroke="#c46a2c" stroke-width="0.6" opacity="0.35"/><rect x="587.6" y="298.9" width="42.7" height="8.7" fill="#eba05a"/><path d="M587.6 298.9V307.6" stroke="#c0652a" stroke-width="0.6" opacity="0.3"/><rect x="630.3" y="298.9" width="42.7" height="8.7" fill="#e28d48"/><path d="M630.3 298.9V307.6" stroke="#c0652a" stroke-width="0.6" opacity="0.3"/><rect x="673.0" y="298.9" width="42.7" height="8.7" fill="#e28d48"/><path d="M673.0 298.9V307.6" stroke="#c0652a" stroke-width="0.6" opacity="0.3"/><rect x="715.7" y="298.9" width="42.7" height="8.7" fill="#f0b06c"/><path d="M715.7 298.9V307.6" stroke="#c0652a" stroke-width="0.6" opacity="0.3"/><rect x="758.4" y="298.9" width="42.7" height="8.7" fill="#eba05a"/><path d="M758.4 298.9V307.6" stroke="#c0652a" stroke-width="0.6" opacity="0.3"/><rect x="589" y="298.9" width="174" height="8.7" fill="url(#plankg)"/><path d="M589 307.6H763" stroke="#c46a2c" stroke-width="0.6" opacity="0.35"/><rect x="555.0" y="307.6" width="42.7" height="8.7" fill="#eca460"/><path d="M555.0 307.6V316.3" stroke="#c0652a" stroke-width="0.6" opacity="0.3"/><rect x="597.7" y="307.6" width="42.7" height="8.7" fill="#de8542"/><path d="M597.7 307.6V316.3" stroke="#c0652a" stroke-width="0.6" opacity="0.3"/><rect x="640.4" y="307.6" width="42.7" height="8.7" fill="#de8542"/><path d="M640.4 307.6V316.3" stroke="#c0652a" stroke-width="0.6" opacity="0.3"/><rect x="683.1" y="307.6" width="42.7" height="8.7" fill="#eba05a"/><path d="M683.1 307.6V316.3" stroke="#c0652a" stroke-width="0.6" opacity="0.3"/><rect x="725.8" y="307.6" width="42.7" height="8.7" fill="#f0b06c"/><path d="M725.8 307.6V316.3" stroke="#c0652a" stroke-width="0.6" opacity="0.3"/><rect x="589" y="307.6" width="174" height="8.7" fill="url(#plankg)"/><path d="M589 316.3H763" stroke="#c46a2c" stroke-width="0.6" opacity="0.35"/><rect x="587.6" y="316.3" width="42.7" height="8.7" fill="#e99d58"/><path d="M587.6 316.3V325.0" stroke="#c0652a" stroke-width="0.6" opacity="0.3"/><rect x="630.3" y="316.3" width="42.7" height="8.7" fill="#eca460"/><path d="M630.3 316.3V325.0" stroke="#c0652a" stroke-width="0.6" opacity="0.3"/><rect x="673.0" y="316.3" width="42.7" height="8.7" fill="#eca460"/><path d="M673.0 316.3V325.0" stroke="#c0652a" stroke-width="0.6" opacity="0.3"/><rect x="715.7" y="316.3" width="42.7" height="8.7" fill="#eca460"/><path d="M715.7 316.3V325.0" stroke="#c0652a" stroke-width="0.6" opacity="0.3"/><rect x="758.4" y="316.3" width="42.7" height="8.7" fill="#eca460"/><path d="M758.4 316.3V325.0" stroke="#c0652a" stroke-width="0.6" opacity="0.3"/><rect x="589" y="316.3" width="174" height="8.7" fill="url(#plankg)"/><path d="M589 325.0H763" stroke="#c46a2c" stroke-width="0.6" opacity="0.35"/><rect x="555.0" y="325.0" width="42.7" height="8.7" fill="#eeaa66"/><path d="M555.0 325.0V333.7" stroke="#c0652a" stroke-width="0.6" opacity="0.3"/><rect x="597.7" y="325.0" width="42.7" height="8.7" fill="#e99d58"/><path d="M597.7 325.0V333.7" stroke="#c0652a" stroke-width="0.6" opacity="0.3"/><rect x="640.4" y="325.0" width="42.7" height="8.7" fill="#eca460"/><path d="M640.4 325.0V333.7" stroke="#c0652a" stroke-width="0.6" opacity="0.3"/><rect x="683.1" y="325.0" width="42.7" height="8.7" fill="#f0b06c"/><path d="M683.1 325.0V333.7" stroke="#c0652a" stroke-width="0.6" opacity="0.3"/><rect x="725.8" y="325.0" width="42.7" height="8.7" fill="#e89a55"/><path d="M725.8 325.0V333.7" stroke="#c0652a" stroke-width="0.6" opacity="0.3"/><rect x="589" y="325.0" width="174" height="8.7" fill="url(#plankg)"/><path d="M589 333.7H763" stroke="#c46a2c" stroke-width="0.6" opacity="0.35"/><rect x="587.6" y="333.7" width="42.7" height="8.7" fill="#eeaa66"/><path d="M587.6 333.7V342.4" stroke="#c0652a" stroke-width="0.6" opacity="0.3"/><rect x="630.3" y="333.7" width="42.7" height="8.7" fill="#e89a55"/><path d="M630.3 333.7V342.4" stroke="#c0652a" stroke-width="0.6" opacity="0.3"/><rect x="673.0" y="333.7" width="42.7" height="8.7" fill="#e99d58"/><path d="M673.0 333.7V342.4" stroke="#c0652a" stroke-width="0.6" opacity="0.3"/><rect x="715.7" y="333.7" width="42.7" height="8.7" fill="#eba05a"/><path d="M715.7 333.7V342.4" stroke="#c0652a" stroke-width="0.6" opacity="0.3"/><rect x="758.4" y="333.7" width="42.7" height="8.7" fill="#eeaa66"/><path d="M758.4 333.7V342.4" stroke="#c0652a" stroke-width="0.6" opacity="0.3"/><rect x="589" y="333.7" width="174" height="8.7" fill="url(#plankg)"/><path d="M589 342.4H763" stroke="#c46a2c" stroke-width="0.6" opacity="0.35"/><rect x="555.0" y="342.4" width="42.7" height="8.7" fill="#de8542"/><path d="M555.0 342.4V351.1" stroke="#c0652a" stroke-width="0.6" opacity="0.3"/><rect x="597.7" y="342.4" width="42.7" height="8.7" fill="#f0b06c"/><path d="M597.7 342.4V351.1" stroke="#c0652a" stroke-width="0.6" opacity="0.3"/><rect x="640.4" y="342.4" width="42.7" height="8.7" fill="#eeaa66"/><path d="M640.4 342.4V351.1" stroke="#c0652a" stroke-width="0.6" opacity="0.3"/><rect x="683.1" y="342.4" width="42.7" height="8.7" fill="#f0b06c"/><path d="M683.1 342.4V351.1" stroke="#c0652a" stroke-width="0.6" opacity="0.3"/><rect x="725.8" y="342.4" width="42.7" height="8.7" fill="#eba05a"/><path d="M725.8 342.4V351.1" stroke="#c0652a" stroke-width="0.6" opacity="0.3"/><rect x="589" y="342.4" width="174" height="8.7" fill="url(#plankg)"/><path d="M589 351.1H763" stroke="#c46a2c" stroke-width="0.6" opacity="0.35"/><rect x="587.6" y="351.1" width="42.7" height="8.7" fill="#eeaa66"/><path d="M587.6 351.1V359.8" stroke="#c0652a" stroke-width="0.6" opacity="0.3"/><rect x="630.3" y="351.1" width="42.7" height="8.7" fill="#de8542"/><path d="M630.3 351.1V359.8" stroke="#c0652a" stroke-width="0.6" opacity="0.3"/><rect x="673.0" y="351.1" width="42.7" height="8.7" fill="#f0b06c"/><path d="M673.0 351.1V359.8" stroke="#c0652a" stroke-width="0.6" opacity="0.3"/><rect x="715.7" y="351.1" width="42.7" height="8.7" fill="#eeaa66"/><path d="M715.7 351.1V359.8" stroke="#c0652a" stroke-width="0.6" opacity="0.3"/><rect x="758.4" y="351.1" width="42.7" height="8.7" fill="#e89a55"/><path d="M758.4 351.1V359.8" stroke="#c0652a" stroke-width="0.6" opacity="0.3"/><rect x="589" y="351.1" width="174" height="8.7" fill="url(#plankg)"/><path d="M589 359.8H763" stroke="#c46a2c" stroke-width="0.6" opacity="0.35"/><rect x="555.0" y="359.8" width="42.7" height="8.7" fill="#eca460"/><path d="M555.0 359.8V368.5" stroke="#c0652a" stroke-width="0.6" opacity="0.3"/><rect x="597.7" y="359.8" width="42.7" height="8.7" fill="#eba05a"/><path d="M597.7 359.8V368.5" stroke="#c0652a" stroke-width="0.6" opacity="0.3"/><rect x="640.4" y="359.8" width="42.7" height="8.7" fill="#e28d48"/><path d="M640.4 359.8V368.5" stroke="#c0652a" stroke-width="0.6" opacity="0.3"/><rect x="683.1" y="359.8" width="42.7" height="8.7" fill="#de8542"/><path d="M683.1 359.8V368.5" stroke="#c0652a" stroke-width="0.6" opacity="0.3"/><rect x="725.8" y="359.8" width="42.7" height="8.7" fill="#de8542"/><path d="M725.8 359.8V368.5" stroke="#c0652a" stroke-width="0.6" opacity="0.3"/><rect x="589" y="359.8" width="174" height="8.7" fill="url(#plankg)"/><path d="M589 368.5H763" stroke="#c46a2c" stroke-width="0.6" opacity="0.35"/><rect x="587.6" y="368.5" width="42.7" height="8.7" fill="#e99d58"/><path d="M587.6 368.5V377.2" stroke="#c0652a" stroke-width="0.6" opacity="0.3"/><rect x="630.3" y="368.5" width="42.7" height="8.7" fill="#eeaa66"/><path d="M630.3 368.5V377.2" stroke="#c0652a" stroke-width="0.6" opacity="0.3"/><rect x="673.0" y="368.5" width="42.7" height="8.7" fill="#eeaa66"/><path d="M673.0 368.5V377.2" stroke="#c0652a" stroke-width="0.6" opacity="0.3"/><rect x="715.7" y="368.5" width="42.7" height="8.7" fill="#e99d58"/><path d="M715.7 368.5V377.2" stroke="#c0652a" stroke-width="0.6" opacity="0.3"/><rect x="758.4" y="368.5" width="42.7" height="8.7" fill="#e99d58"/><path d="M758.4 368.5V377.2" stroke="#c0652a" stroke-width="0.6" opacity="0.3"/><rect x="589" y="368.5" width="174" height="8.7" fill="url(#plankg)"/><path d="M589 377.2H763" stroke="#c46a2c" stroke-width="0.6" opacity="0.35"/><rect x="555.0" y="377.2" width="42.7" height="8.7" fill="#e99d58"/><path d="M555.0 377.2V385.9" stroke="#c0652a" stroke-width="0.6" opacity="0.3"/><rect x="597.7" y="377.2" width="42.7" height="8.7" fill="#e99d58"/><path d="M597.7 377.2V385.9" stroke="#c0652a" stroke-width="0.6" opacity="0.3"/><rect x="640.4" y="377.2" width="42.7" height="8.7" fill="#e28d48"/><path d="M640.4 377.2V385.9" stroke="#c0652a" stroke-width="0.6" opacity="0.3"/><rect x="683.1" y="377.2" width="42.7" height="8.7" fill="#eeaa66"/><path d="M683.1 377.2V385.9" stroke="#c0652a" stroke-width="0.6" opacity="0.3"/><rect x="725.8" y="377.2" width="42.7" height="8.7" fill="#eba05a"/><path d="M725.8 377.2V385.9" stroke="#c0652a" stroke-width="0.6" opacity="0.3"/><rect x="589" y="377.2" width="174" height="8.7" fill="url(#plankg)"/><path d="M589 385.9H763" stroke="#c46a2c" stroke-width="0.6" opacity="0.35"/><rect x="587.6" y="385.9" width="42.7" height="8.7" fill="#eeaa66"/><path d="M587.6 385.9V394.6" stroke="#c0652a" stroke-width="0.6" opacity="0.3"/><rect x="630.3" y="385.9" width="42.7" height="8.7" fill="#de8542"/><path d="M630.3 385.9V394.6" stroke="#c0652a" stroke-width="0.6" opacity="0.3"/><rect x="673.0" y="385.9" width="42.7" height="8.7" fill="#e28d48"/><path d="M673.0 385.9V394.6" stroke="#c0652a" stroke-width="0.6" opacity="0.3"/><rect x="715.7" y="385.9" width="42.7" height="8.7" fill="#e99d58"/><path d="M715.7 385.9V394.6" stroke="#c0652a" stroke-width="0.6" opacity="0.3"/><rect x="758.4" y="385.9" width="42.7" height="8.7" fill="#eba05a"/><path d="M758.4 385.9V394.6" stroke="#c0652a" stroke-width="0.6" opacity="0.3"/><rect x="589" y="385.9" width="174" height="8.7" fill="url(#plankg)"/><path d="M589 394.6H763" stroke="#c46a2c" stroke-width="0.6" opacity="0.35"/><rect x="555.0" y="394.6" width="42.7" height="8.7" fill="#f0b06c"/><path d="M555.0 394.6V403.3" stroke="#c0652a" stroke-width="0.6" opacity="0.3"/><rect x="597.7" y="394.6" width="42.7" height="8.7" fill="#e89a55"/><path d="M597.7 394.6V403.3" stroke="#c0652a" stroke-width="0.6" opacity="0.3"/><rect x="640.4" y="394.6" width="42.7" height="8.7" fill="#de8542"/><path d="M640.4 394.6V403.3" stroke="#c0652a" stroke-width="0.6" opacity="0.3"/><rect x="683.1" y="394.6" width="42.7" height="8.7" fill="#eba05a"/><path d="M683.1 394.6V403.3" stroke="#c0652a" stroke-width="0.6" opacity="0.3"/><rect x="725.8" y="394.6" width="42.7" height="8.7" fill="#f0b06c"/><path d="M725.8 394.6V403.3" stroke="#c0652a" stroke-width="0.6" opacity="0.3"/><rect x="589" y="394.6" width="174" height="8.7" fill="url(#plankg)"/><path d="M589 403.3H763" stroke="#c46a2c" stroke-width="0.6" opacity="0.35"/><rect x="587.6" y="403.3" width="42.7" height="8.7" fill="#e28d48"/><path d="M587.6 403.3V412.0" stroke="#c0652a" stroke-width="0.6" opacity="0.3"/><rect x="630.3" y="403.3" width="42.7" height="8.7" fill="#eeaa66"/><path d="M630.3 403.3V412.0" stroke="#c0652a" stroke-width="0.6" opacity="0.3"/><rect x="673.0" y="403.3" width="42.7" height="8.7" fill="#e28d48"/><path d="M673.0 403.3V412.0" stroke="#c0652a" stroke-width="0.6" opacity="0.3"/><rect x="715.7" y="403.3" width="42.7" height="8.7" fill="#de8542"/><path d="M715.7 403.3V412.0" stroke="#c0652a" stroke-width="0.6" opacity="0.3"/><rect x="758.4" y="403.3" width="42.7" height="8.7" fill="#eba05a"/><path d="M758.4 403.3V412.0" stroke="#c0652a" stroke-width="0.6" opacity="0.3"/><rect x="589" y="403.3" width="174" height="8.7" fill="url(#plankg)"/><path d="M589 412.0H763" stroke="#c46a2c" stroke-width="0.6" opacity="0.35"/><rect x="555.0" y="412.0" width="42.7" height="8.7" fill="#de8542"/><path d="M555.0 412.0V420.7" stroke="#c0652a" stroke-width="0.6" opacity="0.3"/><rect x="597.7" y="412.0" width="42.7" height="8.7" fill="#e89a55"/><path d="M597.7 412.0V420.7" stroke="#c0652a" stroke-width="0.6" opacity="0.3"/><rect x="640.4" y="412.0" width="42.7" height="8.7" fill="#de8542"/><path d="M640.4 412.0V420.7" stroke="#c0652a" stroke-width="0.6" opacity="0.3"/><rect x="683.1" y="412.0" width="42.7" height="8.7" fill="#e89a55"/><path d="M683.1 412.0V420.7" stroke="#c0652a" stroke-width="0.6" opacity="0.3"/><rect x="725.8" y="412.0" width="42.7" height="8.7" fill="#e89a55"/><path d="M725.8 412.0V420.7" stroke="#c0652a" stroke-width="0.6" opacity="0.3"/><rect x="589" y="412.0" width="174" height="8.7" fill="url(#plankg)"/><path d="M589 420.7H763" stroke="#c46a2c" stroke-width="0.6" opacity="0.35"/><rect x="587.6" y="420.7" width="42.7" height="8.7" fill="#e89a55"/><path d="M587.6 420.7V429.4" stroke="#c0652a" stroke-width="0.6" opacity="0.3"/><rect x="630.3" y="420.7" width="42.7" height="8.7" fill="#eca460"/><path d="M630.3 420.7V429.4" stroke="#c0652a" stroke-width="0.6" opacity="0.3"/><rect x="673.0" y="420.7" width="42.7" height="8.7" fill="#e89a55"/><path d="M673.0 420.7V429.4" stroke="#c0652a" stroke-width="0.6" opacity="0.3"/><rect x="715.7" y="420.7" width="42.7" height="8.7" fill="#e89a55"/><path d="M715.7 420.7V429.4" stroke="#c0652a" stroke-width="0.6" opacity="0.3"/><rect x="758.4" y="420.7" width="42.7" height="8.7" fill="#e99d58"/><path d="M758.4 420.7V429.4" stroke="#c0652a" stroke-width="0.6" opacity="0.3"/><rect x="589" y="420.7" width="174" height="8.7" fill="url(#plankg)"/><path d="M589 429.4H763" stroke="#c46a2c" stroke-width="0.6" opacity="0.35"/><rect x="555.0" y="429.4" width="42.7" height="8.7" fill="#de8542"/><path d="M555.0 429.4V438.1" stroke="#c0652a" stroke-width="0.6" opacity="0.3"/><rect x="597.7" y="429.4" width="42.7" height="8.7" fill="#f0b06c"/><path d="M597.7 429.4V438.1" stroke="#c0652a" stroke-width="0.6" opacity="0.3"/><rect x="640.4" y="429.4" width="42.7" height="8.7" fill="#f0b06c"/><path d="M640.4 429.4V438.1" stroke="#c0652a" stroke-width="0.6" opacity="0.3"/><rect x="683.1" y="429.4" width="42.7" height="8.7" fill="#e28d48"/><path d="M683.1 429.4V438.1" stroke="#c0652a" stroke-width="0.6" opacity="0.3"/><rect x="725.8" y="429.4" width="42.7" height="8.7" fill="#e99d58"/><path d="M725.8 429.4V438.1" stroke="#c0652a" stroke-width="0.6" opacity="0.3"/><rect x="589" y="429.4" width="174" height="8.7" fill="url(#plankg)"/><path d="M589 438.1H763" stroke="#c46a2c" stroke-width="0.6" opacity="0.35"/><rect x="587.6" y="438.1" width="42.7" height="8.7" fill="#e28d48"/><path d="M587.6 438.1V446.8" stroke="#c0652a" stroke-width="0.6" opacity="0.3"/><rect x="630.3" y="438.1" width="42.7" height="8.7" fill="#e89a55"/><path d="M630.3 438.1V446.8" stroke="#c0652a" stroke-width="0.6" opacity="0.3"/><rect x="673.0" y="438.1" width="42.7" height="8.7" fill="#de8542"/><path d="M673.0 438.1V446.8" stroke="#c0652a" stroke-width="0.6" opacity="0.3"/><rect x="715.7" y="438.1" width="42.7" height="8.7" fill="#e99d58"/><path d="M715.7 438.1V446.8" stroke="#c0652a" stroke-width="0.6" opacity="0.3"/><rect x="758.4" y="438.1" width="42.7" height="8.7" fill="#de8542"/><path d="M758.4 438.1V446.8" stroke="#c0652a" stroke-width="0.6" opacity="0.3"/><rect x="589" y="438.1" width="174" height="8.7" fill="url(#plankg)"/><path d="M589 446.8H763" stroke="#c46a2c" stroke-width="0.6" opacity="0.35"/><rect x="555.0" y="446.8" width="42.7" height="8.7" fill="#de8542"/><path d="M555.0 446.8V455.5" stroke="#c0652a" stroke-width="0.6" opacity="0.3"/><rect x="597.7" y="446.8" width="42.7" height="8.7" fill="#eeaa66"/><path d="M597.7 446.8V455.5" stroke="#c0652a" stroke-width="0.6" opacity="0.3"/><rect x="640.4" y="446.8" width="42.7" height="8.7" fill="#e89a55"/><path d="M640.4 446.8V455.5" stroke="#c0652a" stroke-width="0.6" opacity="0.3"/><rect x="683.1" y="446.8" width="42.7" height="8.7" fill="#eeaa66"/><path d="M683.1 446.8V455.5" stroke="#c0652a" stroke-width="0.6" opacity="0.3"/><rect x="725.8" y="446.8" width="42.7" height="8.7" fill="#e89a55"/><path d="M725.8 446.8V455.5" stroke="#c0652a" stroke-width="0.6" opacity="0.3"/><rect x="589" y="446.8" width="174" height="8.7" fill="url(#plankg)"/><path d="M589 455.5H763" stroke="#c46a2c" stroke-width="0.6" opacity="0.35"/><rect x="587.6" y="455.5" width="42.7" height="8.7" fill="#e99d58"/><path d="M587.6 455.5V464.2" stroke="#c0652a" stroke-width="0.6" opacity="0.3"/><rect x="630.3" y="455.5" width="42.7" height="8.7" fill="#e89a55"/><path d="M630.3 455.5V464.2" stroke="#c0652a" stroke-width="0.6" opacity="0.3"/><rect x="673.0" y="455.5" width="42.7" height="8.7" fill="#de8542"/><path d="M673.0 455.5V464.2" stroke="#c0652a" stroke-width="0.6" opacity="0.3"/><rect x="715.7" y="455.5" width="42.7" height="8.7" fill="#e89a55"/><path d="M715.7 455.5V464.2" stroke="#c0652a" stroke-width="0.6" opacity="0.3"/><rect x="758.4" y="455.5" width="42.7" height="8.7" fill="#e99d58"/><path d="M758.4 455.5V464.2" stroke="#c0652a" stroke-width="0.6" opacity="0.3"/><rect x="589" y="455.5" width="174" height="8.7" fill="url(#plankg)"/><path d="M589 464.2H763" stroke="#c46a2c" stroke-width="0.6" opacity="0.35"/><rect x="555.0" y="464.2" width="42.7" height="8.7" fill="#f0b06c"/><path d="M555.0 464.2V472.9" stroke="#c0652a" stroke-width="0.6" opacity="0.3"/><rect x="597.7" y="464.2" width="42.7" height="8.7" fill="#e99d58"/><path d="M597.7 464.2V472.9" stroke="#c0652a" stroke-width="0.6" opacity="0.3"/><rect x="640.4" y="464.2" width="42.7" height="8.7" fill="#de8542"/><path d="M640.4 464.2V472.9" stroke="#c0652a" stroke-width="0.6" opacity="0.3"/><rect x="683.1" y="464.2" width="42.7" height="8.7" fill="#eeaa66"/><path d="M683.1 464.2V472.9" stroke="#c0652a" stroke-width="0.6" opacity="0.3"/><rect x="725.8" y="464.2" width="42.7" height="8.7" fill="#eeaa66"/><path d="M725.8 464.2V472.9" stroke="#c0652a" stroke-width="0.6" opacity="0.3"/><rect x="589" y="464.2" width="174" height="8.7" fill="url(#plankg)"/><path d="M589 472.9H763" stroke="#c46a2c" stroke-width="0.6" opacity="0.35"/><rect x="587.6" y="472.9" width="42.7" height="8.7" fill="#eca460"/><path d="M587.6 472.9V481.6" stroke="#c0652a" stroke-width="0.6" opacity="0.3"/><rect x="630.3" y="472.9" width="42.7" height="8.7" fill="#e89a55"/><path d="M630.3 472.9V481.6" stroke="#c0652a" stroke-width="0.6" opacity="0.3"/><rect x="673.0" y="472.9" width="42.7" height="8.7" fill="#e99d58"/><path d="M673.0 472.9V481.6" stroke="#c0652a" stroke-width="0.6" opacity="0.3"/><rect x="715.7" y="472.9" width="42.7" height="8.7" fill="#eba05a"/><path d="M715.7 472.9V481.6" stroke="#c0652a" stroke-width="0.6" opacity="0.3"/><rect x="758.4" y="472.9" width="42.7" height="8.7" fill="#eca460"/><path d="M758.4 472.9V481.6" stroke="#c0652a" stroke-width="0.6" opacity="0.3"/><rect x="589" y="472.9" width="174" height="8.7" fill="url(#plankg)"/><path d="M589 481.6H763" stroke="#c46a2c" stroke-width="0.6" opacity="0.35"/><rect x="555.0" y="481.6" width="42.7" height="8.7" fill="#de8542"/><path d="M555.0 481.6V490.3" stroke="#c0652a" stroke-width="0.6" opacity="0.3"/><rect x="597.7" y="481.6" width="42.7" height="8.7" fill="#eeaa66"/><path d="M597.7 481.6V490.3" stroke="#c0652a" stroke-width="0.6" opacity="0.3"/><rect x="640.4" y="481.6" width="42.7" height="8.7" fill="#eca460"/><path d="M640.4 481.6V490.3" stroke="#c0652a" stroke-width="0.6" opacity="0.3"/><rect x="683.1" y="481.6" width="42.7" height="8.7" fill="#e99d58"/><path d="M683.1 481.6V490.3" stroke="#c0652a" stroke-width="0.6" opacity="0.3"/><rect x="725.8" y="481.6" width="42.7" height="8.7" fill="#eca460"/><path d="M725.8 481.6V490.3" stroke="#c0652a" stroke-width="0.6" opacity="0.3"/><rect x="589" y="481.6" width="174" height="8.7" fill="url(#plankg)"/><path d="M589 490.3H763" stroke="#c46a2c" stroke-width="0.6" opacity="0.35"/><rect x="587.6" y="490.3" width="42.7" height="8.7" fill="#eeaa66"/><path d="M587.6 490.3V499.0" stroke="#c0652a" stroke-width="0.6" opacity="0.3"/><rect x="630.3" y="490.3" width="42.7" height="8.7" fill="#eba05a"/><path d="M630.3 490.3V499.0" stroke="#c0652a" stroke-width="0.6" opacity="0.3"/><rect x="673.0" y="490.3" width="42.7" height="8.7" fill="#eba05a"/><path d="M673.0 490.3V499.0" stroke="#c0652a" stroke-width="0.6" opacity="0.3"/><rect x="715.7" y="490.3" width="42.7" height="8.7" fill="#eba05a"/><path d="M715.7 490.3V499.0" stroke="#c0652a" stroke-width="0.6" opacity="0.3"/><rect x="758.4" y="490.3" width="42.7" height="8.7" fill="#f0b06c"/><path d="M758.4 490.3V499.0" stroke="#c0652a" stroke-width="0.6" opacity="0.3"/><rect x="589" y="490.3" width="174" height="8.7" fill="url(#plankg)"/><path d="M589 499.0H763" stroke="#c46a2c" stroke-width="0.6" opacity="0.35"/></g><rect x="646" y="259" width="117" height="50" fill="#999" /><rect x="652" y="201" width="111" height="99" fill="#edf1f1" /><path d="M652.5 201V300M656.5 201V300M660.5 201V300M664.5 201V300M668.5 201V300M672.5 201V300M676.5 201V300M680.5 201V300M684.5 201V300M688.5 201V300M692.5 201V300M696.5 201V300M700.5 201V300M704.5 201V300M708.5 201V300M712.5 201V300M716.5 201V300M720.5 201V300M724.5 201V300M728.5 201V300M732.5 201V300M736.5 201V300M740.5 201V300M744.5 201V300M748.5 201V300M752.5 201V300M756.5 201V300M760.5 201V300M652 201.5H763M652 205.5H763M652 209.5H763M652 213.5H763M652 217.5H763M652 221.5H763M652 225.5H763M652 229.5H763M652 233.5H763M652 237.5H763M652 241.5H763M652 245.5H763M652 249.5H763M652 253.5H763M652 257.5H763M652 261.5H763M652 265.5H763M652 269.5H763M652 273.5H763M652 277.5H763M652 281.5H763M652 285.5H763M652 289.5H763M652 293.5H763M652 297.5H763" stroke="#d9dfdf" stroke-width="1" shape-rendering="crispEdges"/><path d="M658.5 204.5H662.5M660.5 202.5V206.5M658.5 212.5H662.5M660.5 210.5V214.5M658.5 220.5H662.5M660.5 218.5V222.5M658.5 228.5H662.5M660.5 226.5V230.5M658.5 236.5H662.5M660.5 234.5V238.5M658.5 244.5H662.5M660.5 242.5V246.5M658.5 252.5H662.5M660.5 250.5V254.5M658.5 260.5H662.5M660.5 258.5V262.5M658.5 268.5H662.5M660.5 266.5V270.5M658.5 276.5H662.5M660.5 274.5V278.5M658.5 284.5H662.5M660.5 282.5V286.5M658.5 292.5H662.5M660.5 290.5V294.5M666.5 204.5H670.5M668.5 202.5V206.5M666.5 212.5H670.5M668.5 210.5V214.5M666.5 220.5H670.5M668.5 218.5V222.5M666.5 228.5H670.5M668.5 226.5V230.5M666.5 236.5H670.5M668.5 234.5V238.5M666.5 244.5H670.5M668.5 242.5V246.5M666.5 252.5H670.5M668.5 250.5V254.5M666.5 260.5H670.5M668.5 258.5V262.5M666.5 268.5H670.5M668.5 266.5V270.5M666.5 276.5H670.5M668.5 274.5V278.5M666.5 284.5H670.5M668.5 282.5V286.5M666.5 292.5H670.5M668.5 290.5V294.5M674.5 204.5H678.5M676.5 202.5V206.5M674.5 212.5H678.5M676.5 210.5V214.5M674.5 220.5H678.5M676.5 218.5V222.5M674.5 228.5H678.5M676.5 226.5V230.5M674.5 236.5H678.5M676.5 234.5V238.5M674.5 244.5H678.5M676.5 242.5V246.5M674.5 252.5H678.5M676.5 250.5V254.5M674.5 260.5H678.5M676.5 258.5V262.5M674.5 268.5H678.5M676.5 266.5V270.5M674.5 276.5H678.5M676.5 274.5V278.5M674.5 284.5H678.5M676.5 282.5V286.5M674.5 292.5H678.5M676.5 290.5V294.5M682.5 204.5H686.5M684.5 202.5V206.5M682.5 212.5H686.5M684.5 210.5V214.5M682.5 220.5H686.5M684.5 218.5V222.5M682.5 228.5H686.5M684.5 226.5V230.5M682.5 236.5H686.5M684.5 234.5V238.5M682.5 244.5H686.5M684.5 242.5V246.5M682.5 252.5H686.5M684.5 250.5V254.5M682.5 260.5H686.5M684.5 258.5V262.5M682.5 268.5H686.5M684.5 266.5V270.5M682.5 276.5H686.5M684.5 274.5V278.5M682.5 284.5H686.5M684.5 282.5V286.5M682.5 292.5H686.5M684.5 290.5V294.5M690.5 204.5H694.5M692.5 202.5V206.5M690.5 212.5H694.5M692.5 210.5V214.5M690.5 220.5H694.5M692.5 218.5V222.5M690.5 228.5H694.5M692.5 226.5V230.5M690.5 236.5H694.5M692.5 234.5V238.5M690.5 244.5H694.5M692.5 242.5V246.5M690.5 252.5H694.5M692.5 250.5V254.5M690.5 260.5H694.5M692.5 258.5V262.5M690.5 268.5H694.5M692.5 266.5V270.5M690.5 276.5H694.5M692.5 274.5V278.5M690.5 284.5H694.5M692.5 282.5V286.5M690.5 292.5H694.5M692.5 290.5V294.5M698.5 204.5H702.5M700.5 202.5V206.5M698.5 212.5H702.5M700.5 210.5V214.5M698.5 220.5H702.5M700.5 218.5V222.5M698.5 228.5H702.5M700.5 226.5V230.5M698.5 236.5H702.5M700.5 234.5V238.5M698.5 244.5H702.5M700.5 242.5V246.5M698.5 252.5H702.5M700.5 250.5V254.5M698.5 260.5H702.5M700.5 258.5V262.5M698.5 268.5H702.5M700.5 266.5V270.5M698.5 276.5H702.5M700.5 274.5V278.5M698.5 284.5H702.5M700.5 282.5V286.5M698.5 292.5H702.5M700.5 290.5V294.5M706.5 204.5H710.5M708.5 202.5V206.5M706.5 212.5H710.5M708.5 210.5V214.5M706.5 220.5H710.5M708.5 218.5V222.5M706.5 228.5H710.5M708.5 226.5V230.5M706.5 236.5H710.5M708.5 234.5V238.5M706.5 244.5H710.5M708.5 242.5V246.5M706.5 252.5H710.5M708.5 250.5V254.5M706.5 260.5H710.5M708.5 258.5V262.5M706.5 268.5H710.5M708.5 266.5V270.5M706.5 276.5H710.5M708.5 274.5V278.5M706.5 284.5H710.5M708.5 282.5V286.5M706.5 292.5H710.5M708.5 290.5V294.5M714.5 204.5H718.5M716.5 202.5V206.5M714.5 212.5H718.5M716.5 210.5V214.5M714.5 220.5H718.5M716.5 218.5V222.5M714.5 228.5H718.5M716.5 226.5V230.5M714.5 236.5H718.5M716.5 234.5V238.5M714.5 244.5H718.5M716.5 242.5V246.5M714.5 252.5H718.5M716.5 250.5V254.5M714.5 260.5H718.5M716.5 258.5V262.5M714.5 268.5H718.5M716.5 266.5V270.5M714.5 276.5H718.5M716.5 274.5V278.5M714.5 284.5H718.5M716.5 282.5V286.5M714.5 292.5H718.5M716.5 290.5V294.5M722.5 204.5H726.5M724.5 202.5V206.5M722.5 212.5H726.5M724.5 210.5V214.5M722.5 220.5H726.5M724.5 218.5V222.5M722.5 228.5H726.5M724.5 226.5V230.5M722.5 236.5H726.5M724.5 234.5V238.5M722.5 244.5H726.5M724.5 242.5V246.5M722.5 252.5H726.5M724.5 250.5V254.5M722.5 260.5H726.5M724.5 258.5V262.5M722.5 268.5H726.5M724.5 266.5V270.5M722.5 276.5H726.5M724.5 274.5V278.5M722.5 284.5H726.5M724.5 282.5V286.5M722.5 292.5H726.5M724.5 290.5V294.5M730.5 204.5H734.5M732.5 202.5V206.5M730.5 212.5H734.5M732.5 210.5V214.5M730.5 220.5H734.5M732.5 218.5V222.5M730.5 228.5H734.5M732.5 226.5V230.5M730.5 236.5H734.5M732.5 234.5V238.5M730.5 244.5H734.5M732.5 242.5V246.5M730.5 252.5H734.5M732.5 250.5V254.5M730.5 260.5H734.5M732.5 258.5V262.5M730.5 268.5H734.5M732.5 266.5V270.5M730.5 276.5H734.5M732.5 274.5V278.5M730.5 284.5H734.5M732.5 282.5V286.5M730.5 292.5H734.5M732.5 290.5V294.5M738.5 204.5H742.5M740.5 202.5V206.5M738.5 212.5H742.5M740.5 210.5V214.5M738.5 220.5H742.5M740.5 218.5V222.5M738.5 228.5H742.5M740.5 226.5V230.5M738.5 236.5H742.5M740.5 234.5V238.5M738.5 244.5H742.5M740.5 242.5V246.5M738.5 252.5H742.5M740.5 250.5V254.5M738.5 260.5H742.5M740.5 258.5V262.5M738.5 268.5H742.5M740.5 266.5V270.5M738.5 276.5H742.5M740.5 274.5V278.5M738.5 284.5H742.5M740.5 282.5V286.5M738.5 292.5H742.5M740.5 290.5V294.5M746.5 204.5H750.5M748.5 202.5V206.5M746.5 212.5H750.5M748.5 210.5V214.5M746.5 220.5H750.5M748.5 218.5V222.5M746.5 228.5H750.5M748.5 226.5V230.5M746.5 236.5H750.5M748.5 234.5V238.5M746.5 244.5H750.5M748.5 242.5V246.5M746.5 252.5H750.5M748.5 250.5V254.5M746.5 260.5H750.5M748.5 258.5V262.5M746.5 268.5H750.5M748.5 266.5V270.5M746.5 276.5H750.5M748.5 274.5V278.5M746.5 284.5H750.5M748.5 282.5V286.5M746.5 292.5H750.5M748.5 290.5V294.5M754.5 204.5H758.5M756.5 202.5V206.5M754.5 212.5H758.5M756.5 210.5V214.5M754.5 220.5H758.5M756.5 218.5V222.5M754.5 228.5H758.5M756.5 226.5V230.5M754.5 236.5H758.5M756.5 234.5V238.5M754.5 244.5H758.5M756.5 242.5V246.5M754.5 252.5H758.5M756.5 250.5V254.5M754.5 260.5H758.5M756.5 258.5V262.5M754.5 268.5H758.5M756.5 266.5V270.5M754.5 276.5H758.5M756.5 274.5V278.5M754.5 284.5H758.5M756.5 282.5V286.5M754.5 292.5H758.5M756.5 290.5V294.5" stroke="#a2aaaa" stroke-width="1" shape-rendering="crispEdges"/><rect x="206" y="120" width="34" height="13" fill="#999" /><rect x="318" y="120" width="97" height="13" fill="#999" /><rect x="371" y="120" width="13" height="120" fill="#999" /><rect x="206" y="216" width="90" height="7" fill="#999" /><rect x="289" y="216" width="7" height="24" fill="#999" /><rect x="336" y="234" width="48" height="6" fill="#999" /><rect x="192" y="263" width="14" height="9" fill="#999" /><rect x="192" y="321" width="14" height="16" fill="#999" /><rect x="192" y="324" width="71" height="13" fill="#999" /><rect x="370" y="353" width="14" height="121" fill="#999" /><rect x="540" y="15" width="37" height="14" fill="#999" /><rect x="632" y="189" width="82" height="12" fill="#999" /><rect x="646" y="189" width="6" height="120" fill="#999" /><rect x="646" y="300" width="117" height="9" fill="#999" /><rect x="763" y="306" width="13" height="94" fill="#999" /><rect x="575" y="259" width="14" height="181" fill="#999" /><rect x="632" y="259" width="14" height="7" fill="#999" /><rect x="541" y="491" width="34" height="13" fill="#999" /><rect x="192" y="120" width="14" height="143" fill="#000" /><rect x="263" y="324" width="121" height="13" fill="#000" /><rect x="370" y="324" width="14" height="29" fill="#000" /><rect x="370" y="474" width="14" height="110" fill="#000" /><rect x="492" y="120" width="48" height="13" fill="#000" /><rect x="527" y="15" width="13" height="181" fill="#000" /><rect x="527" y="189" width="65" height="12" fill="#000" /><rect x="658" y="15" width="56" height="14" fill="#000" /><rect x="700" y="15" width="14" height="180" fill="#000" /><rect x="749" y="189" width="27" height="12" fill="#000" /><rect x="763" y="189" width="13" height="117" fill="#000" /><rect x="763" y="400" width="13" height="104" fill="#000" /><rect x="575" y="491" width="53" height="13" fill="#000" /><rect x="732" y="491" width="44" height="13" fill="#000" /><rect x="384" y="491" width="31" height="13" fill="#000" /><rect x="575" y="440" width="13" height="144" fill="#000" /><rect x="370" y="569" width="47" height="15" fill="#000" /><rect x="560" y="569" width="28" height="15" fill="#000" /><rect x="240.5" y="120.5" width="77.5" height="12.5" fill="#fff" stroke="#8c8c8c" stroke-width="1"/><path d="M240.5 126.8H318" stroke="#9a9a9a" stroke-width="2"/><rect x="415.5" y="120.5" width="76.5" height="12.5" fill="#fff" stroke="#8c8c8c" stroke-width="1"/><path d="M415.5 126.8H492" stroke="#9a9a9a" stroke-width="2"/><rect x="577.5" y="15.5" width="80.5" height="13.5" fill="#fff" stroke="#8c8c8c" stroke-width="1"/><path d="M577.5 22.2H658" stroke="#9a9a9a" stroke-width="2"/><rect x="714.5" y="189.5" width="34.5" height="11.5" fill="#fff" stroke="#8c8c8c" stroke-width="1"/><path d="M714.5 195.2H749" stroke="#9a9a9a" stroke-width="2"/><rect x="415.5" y="491.5" width="125.5" height="12.5" fill="#fff" stroke="#8c8c8c" stroke-width="1"/><path d="M416 494.5H457.5V497.5H499.5V494.5H541M416 497.5H457.5M499.5 497.5H541M457.5 497.5V500.5H499.5V497.5" fill="none" stroke="#a8a8a8" stroke-width="0.9"/><rect x="417.5" y="569.5" width="143.5" height="14.5" fill="#fff" stroke="#8c8c8c" stroke-width="1"/><path d="M417.5 576.8H561" stroke="#9a9a9a" stroke-width="2"/><rect x="192.5" y="272" width="13.5" height="49" fill="#fff" stroke="#8c8c8c" stroke-width="1"/><path d="M199.2 272V321" stroke="#9a9a9a" stroke-width="2"/><rect x="296" y="234" width="40" height="6" fill="#fff" stroke="#8c8c8c" stroke-width="1"/><path d="M296 237.0H336" stroke="#9a9a9a" stroke-width="2"/><rect x="592" y="189.5" width="40" height="11.5" fill="#fff" stroke="#8c8c8c" stroke-width="1"/><path d="M592 195.2H632" stroke="#9a9a9a" stroke-width="2"/><rect x="589" y="259.5" width="43" height="6.5" fill="#fff" stroke="#8c8c8c" stroke-width="1"/><path d="M589 262.8H632" stroke="#9a9a9a" stroke-width="2"/><rect x="646" y="210" width="6" height="20" fill="#fff" stroke="#8c8c8c" stroke-width="1"/><path d="M649.0 210V230" stroke="#9a9a9a" stroke-width="2"/><path d="M371 133L377.5 126.5L384 133M377.5 126.5V120M371 234L384 240M289 222.7L296 216M206 324L192 337M646 201L649.3 195.5L652.7 201M649.3 195.5V189M646 309L652 300M589 266L575 259M763 309L776 306M384 133L371 120" fill="none" stroke="#808080" stroke-width="0.7"/><path d="M192 272H152A40 48 0 0 0 192 320" fill="none" stroke="#aaa" stroke-width="0.8"/><path d="M336 234H298A38 38 0 0 1 336 196Z" fill="#fff" opacity="0.6" stroke="#bbb" stroke-width="0.6"/><path d="M591 189V148A41 41 0 0 1 632 189Z" fill="#fff" opacity="0.55"/><path d="M589 266V307A41 41 0 0 0 630 266Z" fill="#fff" opacity="0.55"/><path d="M652 208H690A38 38 0 0 1 652 246Z" fill="#fff" opacity="0.5"/><rect x="744" y="256" width="20" height="43" fill="#fff" /><path d="M744 256.5H764M746 260.5H762M746 295.5H762M750 283L762 294" fill="none" stroke="#000" stroke-width="1"/><path d="M746.5 263L750 283" fill="none" stroke="#000" stroke-width="1" stroke-dasharray="2 1.5"/><rect x="206" y="199" width="23" height="19" fill="#fff" /><path d="M208 201L212.5 210L227 215.5" fill="none" stroke="#111" stroke-width="1.1" stroke-dasharray="1.6 1.4"/><rect x="628" y="491" width="104" height="57" fill="#fff" stroke="#bbb" stroke-width="0.8"/><rect x="634" y="497" width="92" height="45" fill="#fff" stroke="#bbb" stroke-width="0.8"/><rect x="628" y="491" width="104" height="6" fill="#e4dfd3" /><rect x="640" y="497.5" width="81" height="38.5" fill="#e4dfd3" stroke="#c8c4b8" stroke-width="0.6"/><g mask="url(#mg)" opacity="0.95"><path d="M224 295.5H447" fill="none" stroke="#fff" stroke-width="13.5" stroke-linejoin="round" stroke-linecap="round"/></g><g opacity="0.667"><path d="M224 295.5H447" fill="none" stroke="#52cd3b" stroke-width="7.5" stroke-linejoin="round" stroke-linecap="round"/></g><g mask="url(#mp)" opacity="0.95"><path d="M292.2 160V203.7H305V310H438" fill="none" stroke="#fff" stroke-width="13.5" stroke-linejoin="round" stroke-linecap="round"/></g><g opacity="0.667"><path d="M292.2 160V203.7H305V310H438" fill="none" stroke="#fe5886" stroke-width="7.5" stroke-linejoin="round" stroke-linecap="round"/></g><g mask="url(#mb)" opacity="0.95"><path d="M447 300V203.5H604V111H622" fill="none" stroke="#fff" stroke-width="14" stroke-linejoin="round" stroke-linecap="round"/><path d="M447 229H642V241.5H708" fill="none" stroke="#fff" stroke-width="14" stroke-linejoin="round" stroke-linecap="round"/><path d="M447 255.5H603V385H668" fill="none" stroke="#fff" stroke-width="14" stroke-linejoin="round" stroke-linecap="round"/><circle cx="620" cy="110.5" r="8.5" fill="#fff"/><circle cx="708.5" cy="240.5" r="8.5" fill="#fff"/><circle cx="669" cy="384.5" r="8.5" fill="#fff"/></g><g opacity="0.667"><path d="M447 300V203.5H604V111H622" fill="none" stroke="#00acff" stroke-width="8" stroke-linejoin="round" stroke-linecap="round"/><path d="M447 229H642V241.5H708" fill="none" stroke="#00acff" stroke-width="8" stroke-linejoin="round" stroke-linecap="round"/><path d="M447 255.5H603V385H668" fill="none" stroke="#00acff" stroke-width="8" stroke-linejoin="round" stroke-linecap="round"/><circle cx="620" cy="110.5" r="5.5" fill="#00acff"/><circle cx="708.5" cy="240.5" r="5.5" fill="#00acff"/><circle cx="669" cy="384.5" r="5.5" fill="#00acff"/></g><ellipse cx="307.5" cy="172.3" rx="10" ry="6" fill="#000" opacity="0.6" filter="url(#blur)"/><path d="M292.5 183.3C288.5 172.3 279.0 164.3 279.0 152.3A13.5 13.5 0 0 1 306.0 152.3C306.0 164.3 296.5 172.3 292.5 183.3Z" fill="#fc5c88"/><g fill="#fff"><rect x="291.2" y="147" width="2.6" height="2" rx="1"/><path d="M285.5 151.2Q292.5 147.5 299.5 151.2Z"/><rect x="283" y="151.2" width="19" height="1.6" rx="0.8"/><path d="M286 152.5H299Q299 158.5 292.5 158.5Q286 158.5 286 152.5Z"/><path d="M286.5 160.5H298.5" stroke="#fff" stroke-width="1.2" stroke-dasharray="2 0.6"/></g><ellipse cx="240.5" cy="289.2" rx="10" ry="6" fill="#000" opacity="0.6" filter="url(#blur)"/><path d="M225.5 300.2C221.5 289.2 212.0 281.2 212.0 269.2A13.5 13.5 0 0 1 239.0 269.2C239.0 281.2 229.5 289.2 225.5 300.2Z" fill="#00c43c"/><g fill="#fff"><ellipse cx="225.5" cy="265.2" rx="3.1" ry="4"/><path d="M216.5 279.5C216.5 273.5 219 271.5 222.5 270.8L225.5 277L228.5 270.8C232 271.5 234.5 273.5 234.5 279.5Z"/></g><path d="M224.6 271.5H226.4L226 276.5L225.5 277.5L225 276.5Z" fill="#00c43c"/><ellipse cx="462.7" cy="301.1" rx="10" ry="6" fill="#000" opacity="0.6" filter="url(#blur)"/><path d="M447.7 312.1C443.7 301.1 434.2 293.1 434.2 281.1A13.5 13.5 0 0 1 461.2 281.1C461.2 293.1 451.7 301.1 447.7 312.1Z" fill="#00abfa"/><g fill="none" stroke="#fff" stroke-width="1.2"><path d="M440 276V287M456 280V287M440 284H456"/><rect x="443" y="281" width="11" height="2" fill="#fff"/></g><text x="291" y="180" font-size="12" text-anchor="middle" fill="#333" font-weight="500" stroke="#fff" stroke-width="2.4" paint-order="stroke" stroke-linejoin="round">厨房</text><text x="246" y="276" font-size="12" text-anchor="middle" fill="#333" font-weight="500" stroke="#fff" stroke-width="2.4" paint-order="stroke" stroke-linejoin="round">玄关</text><text x="447" y="307" font-size="12" text-anchor="middle" fill="#333" font-weight="500" stroke="#fff" stroke-width="2.4" paint-order="stroke" stroke-linejoin="round">客餐厅</text><text x="620" y="109" font-size="12" text-anchor="middle" fill="#333" font-weight="500" stroke="#fff" stroke-width="2.4" paint-order="stroke" stroke-linejoin="round">次卧</text><text x="708" y="252" font-size="12" text-anchor="middle" fill="#333" font-weight="500" stroke="#fff" stroke-width="2.4" paint-order="stroke" stroke-linejoin="round">卫生间</text><text x="670" y="389.5" font-size="12" text-anchor="middle" fill="#333" font-weight="500" stroke="#fff" stroke-width="2.4" paint-order="stroke" stroke-linejoin="round">主卧</text><text x="479" y="538" font-size="12" text-anchor="middle" fill="#333" font-weight="500" stroke="#fff" stroke-width="2.4" paint-order="stroke" stroke-linejoin="round">阳台</text><circle cx="124" cy="513.7" r="13" fill="none" stroke="#999" stroke-width="2"/><path d="M124 501V507M124 520V527M111 513.7H117M131 513.7H137" stroke="#999" stroke-width="2"/><rect x="122" y="491" width="5.5" height="9" fill="none" stroke="#000" stroke-width="1"/>
</svg>

<div class="lg" style="top:120px;background:#53cc40">来客动线</div><div class="lv" style="top:144px">4.2m</div>
<div class="lg" style="top:183px;background:#03aefa">居住动线</div><div class="lv" style="top:207px;line-height:30px">21.5m</div>
<div class="lg" style="top:246px;background:#fc5e88">家务动线</div><div class="lv" style="top:270px;line-height:24px">5.2m</div>

</body></html>
